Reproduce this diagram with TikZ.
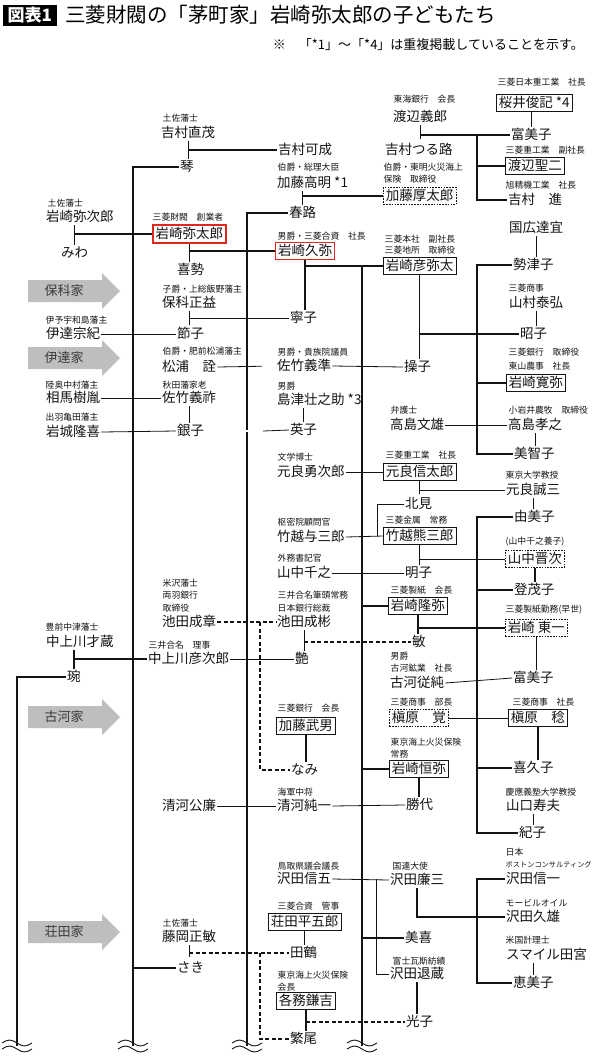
\documentclass[tikz,border=0pt]{standalone}
\usepackage{fontspec}
\newfontfamily\cjk{Noto Sans CJK JP}
\usepackage{xcolor}
\usetikzlibrary{positioning,calc}
\definecolor{ink}{HTML}{141414}
\definecolor{tagfill}{HTML}{BEBEBE}
\definecolor{tagtext}{HTML}{3A3A3A}
\definecolor{redmark}{HTML}{E1261C}
\tikzset{
  nm/.style={anchor=west, font=\cjk\fontsize{13.5}{14}\selectfont, text=ink,
    inner xsep=1pt, inner ysep=1.5pt, text height=11pt, text depth=2.5pt},
  lb/.style={anchor=west, font=\cjk\fontsize{8.8}{9}\selectfont, text=ink, inner sep=.5pt},
  bx/.style={nm, draw=ink, line width=.8pt, inner xsep=2.5pt, inner ysep=2pt},
  dbx/.style={bx, dash pattern=on 1.6pt off 1.2pt},
  rbx/.style={bx, draw=redmark, line width=2.4pt},
  rbxthin/.style={bx, draw=redmark, line width=1pt},
  trunk/.style={draw=ink, line width=1.7pt},
  br/.style={draw=ink, line width=1.5pt},
  tk/.style={draw=ink, line width=1.2pt},
  ln/.style={draw=ink, line width=.8pt},
  dsh/.style={draw=ink, line width=1.2pt, dash pattern=on 4pt off 2.5pt},
  dbl/.style={draw=ink, line width=.6pt, double=white, double distance=1.6pt},
  wv/.style={draw=ink, line width=.9pt}
}

\begin{document}
\begin{tikzpicture}[x=1pt,y=-1pt]
  \useasboundingbox (0,0) rectangle (600,1063);
  \fill[white] (0,0) rectangle (600,1063);

  % title
  \node[fill=black, text=white, font=\cjk\bfseries\fontsize{17}{17}\selectfont,
    inner xsep=4.5pt, inner ysep=0pt, minimum height=21pt, anchor=west] (zuhyo) at (3,15) {図表1};
  \node[anchor=west, font=\cjk\fontsize{20.5}{21}\selectfont, inner sep=0pt] (title) at (65,15)
    {三菱財閥の「茅町家」岩崎弥太郎の子どもたち};
  \node[anchor=east, font=\cjk\fontsize{13}{13}\selectfont, inner sep=0pt] (note) at (584,45)
    {※　「*1」～「*4」は重複掲載していることを示す。};

  % family tags
  \foreach \y/\t/\n in {291/保科家/tagHoshina, 358/伊達家/tagDate, 717/古河家/tagFuruka, 932/荘田家/tagShoda}{
    \fill[tagfill] (28,{\y-11}) -- (102,{\y-11}) -- (102,{\y-18}) -- (120,\y)
      -- (102,{\y+18}) -- (102,{\y+11}) -- (28,{\y+11}) -- cycle;
    \node[font=\cjk\fontsize{13}{13}\selectfont, text=tagtext] (\n) at (64,\y) {\t};
  }

  % top: Yoshimura, Watanabe, Kato
  \node[lb] (naoshigeL) at (162,118) {土佐藩士};
  \node[nm] (naoshige) at (160,133) {吉村直茂};
  \node[nm] (koto) at (179,167) {琴};
  \node[nm] (kanari) at (277,150) {吉村可成};
  \node[nm] (tsuruji) at (384,150) {吉村つる路};
  \node[lb] (yoshiroL) at (393,99) {東海銀行　会長};
  \node[nm] (yoshiro) at (392,117) {渡辺義郎};
  \node[lb] (sakuraiL) at (497,82) {三菱日本重工業　社長};
  \node[bx] (sakurai) at (496,103) {桜井俊記 *4};
  \node[nm] (fumikoA) at (510,135) {富美子};
  \node[lb] (seijiL) at (505,150) {三菱重工業　副社長};
  \node[bx] (seiji) at (505,166) {渡辺聖二};
  \node[lb] (susumuL) at (505,185) {旭精機工業　社長};
  \node[nm] (susumu) at (507,200) {吉村　進};
  \node[lb] (takaakiL) at (277,167) {伯爵・総理大臣};
  \node[nm] (takaaki) at (276,183) {加藤高明 *1};
  \node[lb] (atsutaroL1) at (383,167) {伯爵・東明火災海上};
  \node[lb] (atsutaroL2) at (383,179) {保険　取締役};
  \node[dbx] (atsutaro) at (383,196) {加藤厚太郎};
  \node[nm] (haruji) at (288,213) {春路};

  % Iwasaki main line
  \node[lb] (yajiroL) at (47,203) {土佐藩士};
  \node[nm] (yajiro) at (45,217) {岩崎弥次郎};
  \node[nm] (miwa) at (60,253) {みわ};
  \node[lb] (yataroL) at (152,217) {三菱財閥　創業者};
  \node[rbx] (yataro) at (152,234) {岩崎弥太郎};
  \node[nm] (kise) at (176,270) {喜勢};
  \node[lb] (hisayaL) at (277,236) {男爵・三菱合資　社長};
  \node[rbxthin] (hisaya) at (275,251) {岩崎久弥};
  \node[lb] (koyataL1) at (384,239) {三菱本社　副社長};
  \node[lb] (koyataL2) at (384,250) {三菱地所　取締役};
  \node[bx] (koyata) at (383,266) {岩崎彦弥太};
  \node[nm] (kunihiro) at (508,228) {国広達宜};
  \node[nm] (setsukoA) at (512,265) {勢津子};
  \node[lb] (yamamuraL) at (508,288) {三菱商事};
  \node[nm] (yamamura) at (508,303) {山村泰弘};
  \node[nm] (akikoA) at (519,334) {昭子};
  \node[lb] (hiroyaL1) at (508,352) {三菱銀行　取締役};
  \node[lb] (hiroyaL2) at (508,366) {東山農事　社長};
  \node[bx] (hiroya) at (506,383) {岩崎寛弥};
  \node[lb] (takayukiL) at (508,410) {小岩井農牧　取締役};
  \node[nm] (takayuki) at (507,425) {高島孝之};
  \node[nm] (michiko) at (513,454) {美智子};
  \node[lb] (fumioL) at (390,410) {弁護士};
  \node[nm] (fumio) at (389,425) {高島文雄};

  % Hoshina, Date, Satake
  \node[lb] (hoshinaL) at (162,289) {子爵・上総飯野藩主};
  \node[nm] (hoshina) at (161,303) {保科正益};
  \node[nm] (yasuko) at (289,318) {寧子};
  \node[lb] (munetadaL) at (45,320) {伊予宇和島藩主};
  \node[nm] (munetada) at (45,334) {伊達宗紀};
  \node[nm] (setsukoB) at (176,334) {節子};
  \node[lb] (matsuraL) at (162,351) {伯爵・肥前松浦藩主};
  \node[nm] (matsura) at (161,367) {松浦　詮};
  \node[lb] (yoshinoriL) at (277,352) {男爵・貴族院議員};
  \node[nm] (yoshinori) at (276,366) {佐竹義準};
  \node[nm] (misao) at (403,367) {操子};
  \node[lb] (somaL) at (45,385) {陸奥中村藩主};
  \node[nm] (soma) at (45,398) {相馬樹胤};
  \node[lb] (yoshitoshiL) at (162,385) {秋田藩家老};
  \node[nm] (yoshitoshi) at (161,398) {佐竹義祚};
  \node[lb] (iwakiL) at (45,417) {出羽亀田藩主};
  \node[nm] (iwaki) at (45,432) {岩城隆喜};
  \node[nm] (ginko) at (176,431) {銀子};
  \node[lb] (shimazuL) at (277,386) {男爵};
  \node[nm] (shimazu) at (276,400) {島津壮之助 *3};
  \node[nm] (eiko) at (289,430) {英子};

  % Motora, Takekoshi, Yamanaka, Ikeda
  \node[lb] (yujiroL) at (277,457) {文学博士};
  \node[nm] (yujiro) at (276,472) {元良勇次郎};
  \node[lb] (shintaroL) at (385,455) {三菱重工業　社長};
  \node[bx] (shintaro) at (383,472) {元良信太郎};
  \node[lb] (seizoL) at (505,475) {東京大学教授};
  \node[nm] (seizo) at (505,490) {元良誠三};
  \node[nm] (kitami) at (404,504) {北見};
  \node[nm] (yumiko) at (513,517) {由美子};
  \node[lb] (yosaburoL) at (277,522) {枢密院顧問官};
  \node[nm] (yosaburo) at (276,537) {竹越与三郎};
  \node[lb] (kumasaburoL) at (385,520) {三菱金属　常務};
  \node[bx] (kumasaburo) at (383,536) {竹越熊三郎};
  \node[lb] (shinjiL) at (505,542) {(山中千之養子)};
  \node[dbx] (shinji) at (505,559) {山中晋次};
  \node[nm] (tomoko) at (513,590) {登茂子};
  \node[lb] (chiyukiL) at (277,558) {外務書記官};
  \node[nm] (chiyuki) at (276,573) {山中千之};
  \node[nm] (akikoB) at (404,573) {明子};
  \node[lb] (shigenoriL1) at (162,583) {米沢藩士};
  \node[lb] (shigenoriL2) at (162,595) {両羽銀行};
  \node[lb] (shigenoriL3) at (162,608) {取締役};
  \node[nm] (shigenori) at (161,622) {池田成章};
  \node[lb] (shigeakiL1) at (277,595) {三井合名筆頭常務};
  \node[lb] (shigeakiL2) at (277,608) {日本銀行総裁};
  \node[nm] (shigeaki) at (276,622) {池田成彬};
  \node[lb] (takayaL) at (390,590) {三菱製紙　会長};
  \node[bx] (takaya) at (388,606) {岩崎隆弥};
  \node[lb] (toichiL) at (505,610) {三菱製紙勤務(早世)};
  \node[dbx] (toichi) at (505,628) {岩崎 東一};
  \node[nm] (bin) at (411,642) {敏};

  % Nakamigawa, Furukawa, Makihara
  \node[lb] (saizoL) at (45,627) {豊前中津藩士};
  \node[nm] (saizo) at (45,642) {中上川才蔵};
  \node[lb] (hikojiroL) at (148,645) {三井合名　理事};
  \node[nm] (hikojiro) at (147,659) {中上川彦次郎};
  \node[nm] (en) at (66,677) {琬};
  \node[nm] (tsuya) at (294,659) {艶};
  \node[lb] (jujunL1) at (390,656) {男爵};
  \node[lb] (jujunL2) at (390,668) {古河鉱業　社長};
  \node[nm] (jujun) at (389,683) {古河従純};
  \node[nm] (fumikoB) at (512,678) {富美子};
  \node[lb] (takeoL) at (277,708) {三菱銀行　会長};
  \node[bx] (takeo) at (276,726) {加藤武男};
  \node[nm] (nami) at (290,770) {なみ};
  \node[lb] (satoruL) at (390,702) {三菱商事　部長};
  \node[dbx] (satoru) at (389,718) {槇原　覚};
  \node[lb] (minoruL) at (512,702) {三菱商事　社長};
  \node[bx] (minoru) at (508,718) {槇原　稔};
  \node[nm] (kikuko) at (512,768) {喜久子};
  \node[lb] (tsuneyaL1) at (390,742) {東京海上火災保険};
  \node[lb] (tsuneyaL2) at (390,754) {常務};
  \node[bx] (tsuneya) at (389,769) {岩崎恒弥};
  \node[nm] (katsuyo) at (405,805) {勝代};
  \node[lb] (junichiL) at (277,792) {海軍中将};
  \node[nm] (junichi) at (276,806) {清河純一};
  \node[nm] (kiyokado) at (161,806) {清河公廉};
  \node[lb] (toshioL) at (505,792) {慶應義塾大学教授};
  \node[nm] (toshio) at (505,806) {山口寿夫};
  \node[nm] (noriko) at (518,833) {紀子};

  % Sawada, Shoda, Kagami
  \node[lb] (shingoL) at (277,866) {鳥取県議会議長};
  \node[nm] (shingo) at (276,879) {沢田信五};
  \node[lb] (renzoL) at (392,866) {国連大使};
  \node[nm] (renzo) at (389,880) {沢田廉三};
  \node[lb] (shinichiL1) at (505,852) {日本};
  \node[lb, font=\cjk\fontsize{7.2}{7.5}\selectfont] (shinichiL2) at (505,865) {ボストンコンサルティング};
  \node[nm] (shinichi) at (505,879) {沢田信一};
  \node[lb] (hisaoL) at (505,903) {モービルオイル};
  \node[nm] (hisao) at (505,917) {沢田久雄};
  \node[nm] (miki) at (404,938) {美喜};
  \node[lb] (tamiyaL) at (505,940) {米国計理士};
  \node[nm] (tamiya) at (505,955) {スマイル田宮};
  \node[nm] (emiko) at (512,983) {恵美子};
  \node[lb] (taizoL) at (392,961) {富士瓦斯紡績};
  \node[nm] (taizo) at (389,974) {沢田退蔵};
  \node[nm] (mitsuko) at (405,1022) {光子};
  \node[lb] (heigoroL) at (277,906) {三菱合資　管事};
  \node[bx] (heigoro) at (268,922) {荘田平五郎};
  \node[nm] (tazu) at (289,953) {田鶴};
  \node[lb] (masatoshiL) at (162,923) {土佐藩士};
  \node[nm] (masatoshi) at (161,937) {藤岡正敏};
  \node[nm] (saki) at (176,968) {さき};
  \node[lb] (kenkichiL1) at (277,975) {東京海上火災保険};
  \node[lb] (kenkichiL2) at (277,987) {会長};
  \node[bx] (kenkichi) at (276,1001) {各務鎌吉};
  \node[nm] (shigeo) at (289,1039) {繁尾};

  % trunks and junction columns
  \coordinate (bA) at (17,1046);
  \coordinate (bB) at (133,1046);
  \coordinate (bC) at (247,1046);
  \coordinate (bD) at (362,1046);
  \coordinate (eE) at (477,0);
  \coordinate (dj) at (263,0);
  \coordinate (kj) at (377,0);
  \coordinate (nj) at (260,0);
  \coordinate (sj) at (376,0);
  \draw[trunk] (en.west) -| (bA);
  \draw[trunk] (koto.west) -| (bB);
  \draw[trunk] (haruji.west) -| (bC);
  \draw[trunk] (koyata.west -| bD) -- (bD);
  \foreach \x in {17,133,247,362}{
    \draw[wv] ({\x-15},1043) sin ({\x-7.5},1040) cos (\x,1043) sin ({\x+7.5},1046) cos ({\x+15},1043);
    \draw[wv] ({\x-15},1049) sin ({\x-7.5},1046) cos (\x,1049) sin ({\x+7.5},1052) cos ({\x+15},1049);
  }

  % top links
  \draw[tk] (naoshige.south) -- (naoshige.south |- koto.north);
  \draw[br] (naoshige.south |- kanari.west) -- (kanari.west);
  \draw[dbl] (kanari.east) -- (tsuruji.west);
  \draw[tk] (yoshiro.south) -- ++(0,14);
  \draw[br] (yoshiro.south |- fumikoA.west) -- (fumikoA.west);
  \draw[br] (eE |- fumikoA.west) |- (susumu.west);
  \draw[br] (eE |- seiji.west) -- (seiji.west);
  \draw[br] (fumikoA.north) -- (fumikoA.north |- sakurai.south);
  \draw[br] (haruji.north |- takaaki.south) -- (haruji.north);
  \draw[br] (haruji.north |- atsutaro.west) -- (atsutaro.west);

  % Iwasaki links
  \draw[tk] (miwa.north |- yajiro.south) -- (miwa.north);
  \draw[br] (miwa.north |- yataro.west) -- (yataro.west);
  \draw[tk] (yataro.south) -- (yataro.south |- kise.north);
  \draw[br] (yataro.south |- hisaya.west) -- (hisaya.west);
  \draw[br] (hisaya.south) -- (hisaya.south |- yasuko.north);
  \draw[br] (hisaya.south |- koyata.west) -- (koyata.west);
  \draw[br] (koyata.south) -- (koyata.south |- misao.north);
  \draw[br] (koyata.south |- akikoA.west) -- (akikoA.west);
  \draw[tk] (kunihiro.south) -- (kunihiro.south |- setsukoA.north);
  \draw[tk] (yamamura.south) -- (yamamura.south |- akikoA.north);
  \draw[tk] (takayuki.south) -- (takayuki.south |- michiko.north);
  \draw[br] (setsukoA.west) -- (setsukoA.west -| eE) |- (michiko.west);
  \draw[br] (eE |- hiroya.west) -- (hiroya.west);
  \draw[ln] (fumio.east) -- (takayuki.west);

  % Hoshina, Date, Satake links
  \draw[tk] (hoshina.south) -- ++(0,14);
  \draw[ln] (hoshina.south |- yasuko.west) -- (yasuko.west);
  \draw[ln] (munetada.east) -- (setsukoB.west);
  \draw[ln] (matsura.east) -- (yoshinori.west);
  \draw[ln] (yoshinori.east) -- (misao.west);
  \draw[ln] (soma.east) -- (yoshitoshi.west);
  \draw[tk] (yoshitoshi.south) -- (yoshitoshi.south |- ginko.north);
  \draw[ln] (iwaki.east) -- (ginko.west);
  \draw[dbl] (ginko.east) -- (ginko.east -| dj) |- (yoshinori.west);
  \draw[ln] (ginko.east -| dj) -- (eiko.west);
  \draw[tk] (eiko.north |- shimazu.south) -- (eiko.north);

  % Motora, Takekoshi, Ikeda links
  \draw[ln] (yujiro.east) -- (shintaro.west);
  \draw[tk] (shintaro.south) -- ++(0,13);
  \draw[ln] (shintaro.south |- seizo.west) -- (seizo.west);
  \draw[tk] (seizo.south) -- (seizo.south |- yumiko.north);
  \draw[ln] (kitami.west) -| (kj |- kumasaburo.west);
  \draw[ln] (yosaburo.east) -- (kumasaburo.west);
  \draw[br] (yumiko.west) -- (yumiko.west -| eE) |- (noriko.west);
  \draw[br] (eE |- tomoko.west) -- (tomoko.west);
  \draw[br] (eE |- kikuko.west) -- (kikuko.west);
  \draw[br] (kumasaburo.south) -- (kumasaburo.south |- akikoB.north);
  \draw[ln] (kumasaburo.south |- shinji.west) -- (shinji.west);
  \draw[ln] (chiyuki.east) -- (akikoB.west);
  \draw[tk] (shinji.south) -- (shinji.south |- tomoko.north);
  \draw[br] (takaya.west -| bD) -- (takaya.west);
  \draw[br] (takaya.south) -- (takaya.south |- bin.north);
  \draw[br] (takaya.south |- toichi.west) -- (toichi.west);
  \draw[br] (toichi.south) -- (toichi.south |- fumikoB.north);
  \draw[tk] (shigeaki.south) -- (shigeaki.south |- tsuya.north);
  \draw[dsh] (shigeaki.south |- bin.west) -- (bin.west);
  \draw[dsh] (shigenori.east) -- (shigeaki.west);
  \draw[dsh] (shigenori.east -| nj) |- (nami.west);

  % Nakamigawa, Furukawa, Makihara links
  \draw[tk] (en.north |- saizo.south) -- (en.north);
  \draw[br] (en.north |- hikojiro.west) -- (hikojiro.west);
  \draw[ln] (hikojiro.east) -- (tsuya.west);
  \draw[ln] (jujun.east) -- (fumikoB.west);
  \draw[br] (takeo.south) -- (takeo.south |- nami.north);
  \draw[ln] (satoru.east) -- (minoru.west);
  \draw[br] (minoru.south) -- (minoru.south |- kikuko.north);
  \draw[br] (tsuneya.west -| bD) -- (tsuneya.west);
  \draw[br] (tsuneya.south) -- (tsuneya.south |- katsuyo.north);
  \draw[ln] (kiyokado.east) -- (junichi.west);
  \draw[ln] (junichi.east) -- (katsuyo.west);
  \draw[tk] (toshio.south) -- (toshio.south |- noriko.north);

  % Sawada, Shoda, Kagami links
  \draw[ln] (shingo.east) -- (renzo.west);
  \draw[ln] (shingo.east -| sj) |- (taizo.west);
  \draw[br] (renzo.south) |- (hisao.west);
  \draw[br] (shinichi.west) -- (shinichi.west -| eE) |- (emiko.west);
  \draw[br] (miki.west -| bD) -- (miki.west);
  \draw[tk] (emiko.north |- tamiya.south) -- (emiko.north);
  \draw[br] (taizo.south) -- (taizo.south |- mitsuko.north);
  \draw[br] (heigoro.south) -- (heigoro.south |- tazu.north);
  \draw[tk] (masatoshi.south) -- ++(0,12);
  \draw[dsh] (masatoshi.south |- tazu.west) -- (tazu.west);
  \draw[dsh] (nj |- tazu.west) |- (shigeo.west);
  \draw[br] (saki.west -| bB) -- (saki.west);
  \draw[br] (kenkichi.south) -- (kenkichi.south |- shigeo.north);
  \draw[dsh] (kenkichi.south |- mitsuko.west) -- (mitsuko.west);
\end{tikzpicture}
\end{document}
